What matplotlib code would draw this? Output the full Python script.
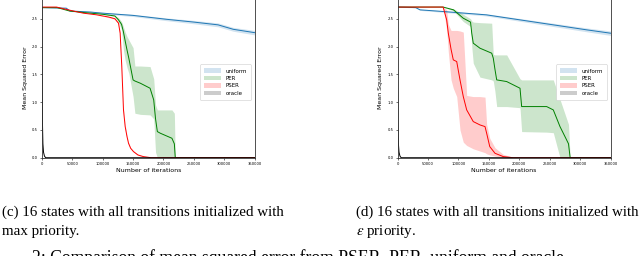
import matplotlib.pyplot as plt
from matplotlib.patches import Patch

# (c) all transitions initialized with max priority
uniform_c_x = [0, 40000, 46000, 80000, 100000, 150000, 205000, 250000, 290000, 315000, 350000]
uniform_c_y = [2.70, 2.69, 2.64, 2.62, 2.60, 2.56, 2.49, 2.44, 2.39, 2.31, 2.25]
uniform_c_err = [0.0, 0.005, 0.01, 0.015, 0.015, 0.02, 0.025, 0.03, 0.035, 0.035, 0.04]

per_c_x = [0, 25000, 45000, 70000, 100000, 120000, 126000, 131000, 134000, 137000, 140000, 143000,
           150000, 153000, 162000, 178000, 184000, 187000, 190000, 195000, 214000, 218000, 219500, 350000]
per_c_y = [2.70, 2.70, 2.64, 2.61, 2.58, 2.55, 2.48, 2.40, 2.27, 2.10, 1.94, 1.79,
           1.40, 1.38, 1.34, 1.25, 1.04, 0.70, 0.47, 0.44, 0.35, 0.25, 0.0, 0.0]
per_c_hi = [2.70, 2.70, 2.64, 2.61, 2.58, 2.56, 2.52, 2.45, 2.36, 2.26, 2.18, 2.12,
            1.98, 1.65, 1.65, 1.64, 1.42, 0.95, 0.86, 0.86, 0.86, 0.80, 0.0, 0.0]
per_c_lo = [2.70, 2.70, 2.64, 2.61, 2.58, 2.54, 2.44, 2.30, 1.95, 1.75, 1.62, 1.52,
            1.10, 0.80, 0.78, 0.77, 0.70, 0.10, 0.0, 0.0, 0.0, 0.0, 0.0, 0.0]

pser_c_x = [0, 24000, 43000, 68000, 90000, 110000, 120000, 126000, 128700, 130000, 131400,
            133000, 134200, 137000, 140000, 142500, 146000, 150700, 158000, 167000, 180000, 350000]
pser_c_y = [2.71, 2.71, 2.66, 2.60, 2.57, 2.53, 2.50, 2.42, 2.24, 1.95, 1.64,
            1.20, 0.86, 0.56, 0.38, 0.26, 0.17, 0.11, 0.05, 0.02, 0.0, 0.0]
pser_c_err = [0.0, 0.0, 0.0, 0.0, 0.0, 0.01, 0.01, 0.02, 0.03, 0.03, 0.03,
              0.03, 0.03, 0.03, 0.02, 0.02, 0.01, 0.01, 0.01, 0.0, 0.0, 0.0]

# (d) all transitions initialized with epsilon priority
uniform_d_x = [0, 30000, 37000, 75000, 146000, 201000, 256000, 311000, 350000]
uniform_d_y = [2.71, 2.70, 2.66, 2.63, 2.57, 2.48, 2.39, 2.30, 2.24]
uniform_d_err = [0.0, 0.005, 0.01, 0.015, 0.02, 0.025, 0.03, 0.035, 0.04]

per_d_x = [0, 75000, 92000, 108000, 120000, 122000, 124500, 135500, 154800, 157400, 160000,
           163000, 179400, 201300, 204000, 245100, 256000, 267000, 277900, 281000, 283700, 350000]
per_d_y = [2.71, 2.71, 2.66, 2.51, 2.44, 2.24, 2.06, 1.97, 1.88, 1.79, 1.60,
           1.40, 1.37, 1.25, 0.92, 0.92, 0.86, 0.56, 0.32, 0.25, 0.0, 0.0]
per_d_hi = [2.71, 2.71, 2.68, 2.58, 2.50, 2.46, 2.44, 2.43, 2.42, 1.86, 1.85,
            1.85, 1.85, 1.42, 1.40, 1.40, 1.40, 1.05, 0.70, 0.60, 0.0, 0.0]
per_d_lo = [2.71, 2.71, 2.64, 2.45, 2.36, 2.00, 1.70, 1.45, 1.40, 1.38, 1.20,
            0.92, 0.92, 0.90, 0.47, 0.46, 0.45, 0.0, 0.0, 0.0, 0.0, 0.0]

pser_d_x = [0, 75000, 80800, 83500, 88000, 91700, 97300, 102700, 108100, 113700,
            124500, 135500, 143800, 146500, 151600, 160200, 173800, 190000, 350000]
pser_d_y = [2.71, 2.71, 2.48, 2.24, 1.95, 1.76, 1.73, 1.40, 1.10, 0.86,
            0.65, 0.59, 0.56, 0.44, 0.20, 0.08, 0.02, 0.0, 0.0]
pser_d_hi = [2.71, 2.71, 2.66, 2.40, 2.29, 2.29, 2.29, 2.28, 2.26, 1.12,
             1.10, 1.10, 1.09, 0.60, 0.35, 0.18, 0.06, 0.01, 0.0]
pser_d_lo = [2.71, 2.71, 2.30, 1.90, 1.40, 1.25, 1.10, 0.50, 0.28, 0.22,
             0.16, 0.12, 0.09, 0.07, 0.05, 0.03, 0.0, 0.0, 0.0]

oracle_x = [0, 300, 800, 1500, 2500, 4000, 6000, 350000]
oracle_y = [2.70, 1.40, 0.60, 0.25, 0.10, 0.03, 0.0, 0.0]

x_ticks = [0, 50000, 100000, 150000, 200000, 250000, 300000, 350000]
y_ticks = [0.0, 0.5, 1.0, 1.5, 2.0, 2.5]
labels = ["uniform", "PER", "PSER", "oracle"]
colors = ["tab:blue", "g", "r", "k"]

caption_c = ["(c) 16 states with all transitions initialized with", "max priority."]
caption_d = ["(d) 16 states with all transitions initialized with", r"$\epsilon$ priority."]
figure_caption = "2: Comparison of mean squared error from PSER, PER, uniform and oracle"

plt.rcParams["mathtext.fontset"] = "stix"


def band(y, err, sign):
    return [v + sign * e for v, e in zip(y, err)]


def draw_panel(ax, uni, per, pser):
    ux, uy, ulo, uhi = uni
    ax.fill_between(ux, ulo, uhi, color=colors[0], alpha=0.2, lw=0)
    ax.plot(ux, uy, color=colors[0], lw=0.7)
    px, py, plo, phi = per
    ax.fill_between(px, plo, phi, color=colors[1], alpha=0.2, lw=0)
    ax.plot(px, py, color=colors[1], lw=0.7)
    sx, sy, slo, shi = pser
    ax.fill_between(sx, slo, shi, color=colors[2], alpha=0.2, lw=0)
    ax.plot(sx, sy, color=colors[2], lw=0.7)
    ax.plot(oracle_x, oracle_y, color=colors[3], lw=0.7)

    ax.set_xlim(0, 350000)
    ax.set_ylim(-0.005, 2.9)
    ax.set_xticks(x_ticks)
    ax.set_xticklabels([str(t) for t in x_ticks])
    ax.set_yticks(y_ticks)
    ax.set_yticklabels(["%.1f" % t for t in y_ticks])
    ax.tick_params(labelsize=2.7, length=1.5, width=0.4, pad=1.5)
    for s in ax.spines.values():
        s.set_linewidth(0.6)
        s.set_color("#333333")
    ax.set_xlabel("Number of iterations", fontsize=4.5, labelpad=1)
    ax.set_ylabel("Mean Squared Error", fontsize=4.5, labelpad=3)

    handles = [Patch(facecolor=c, alpha=0.2, edgecolor="none") for c in colors]
    leg = ax.legend(handles, labels, loc="center right", bbox_to_anchor=(0.995, 0.47),
                    fontsize=4, handlelength=3.0, handleheight=0.9, borderpad=0.7,
                    labelspacing=0.4, framealpha=1, fancybox=True)
    leg.get_frame().set_linewidth(0.4)


fig = plt.figure(figsize=(6.4, 2.56), dpi=100)
ax_c = fig.add_axes([42 / 640, 1 - 158 / 256, 212.5 / 640, 161.5 / 256])
ax_d = fig.add_axes([397.5 / 640, 1 - 158 / 256, 213 / 640, 161.5 / 256])

draw_panel(ax_c,
           (uniform_c_x, uniform_c_y, band(uniform_c_y, uniform_c_err, -1), band(uniform_c_y, uniform_c_err, 1)),
           (per_c_x, per_c_y, per_c_lo, per_c_hi),
           (pser_c_x, pser_c_y, band(pser_c_y, pser_c_err, -1), band(pser_c_y, pser_c_err, 1)))
draw_panel(ax_d,
           (uniform_d_x, uniform_d_y, band(uniform_d_y, uniform_d_err, -1), band(uniform_d_y, uniform_d_err, 1)),
           (per_d_x, per_d_y, per_d_lo, per_d_hi),
           (pser_d_x, pser_d_y, pser_d_lo, pser_d_hi))

serif = "Liberation Serif"
cap_size = 10.8
fig.text(2 / 640, 1 - 212 / 256, caption_c[0], family=serif, fontsize=cap_size, va="center")
fig.text(2 / 640, 1 - 232 / 256, caption_c[1], family=serif, fontsize=cap_size, va="center")
fig.text(356 / 640, 1 - 212 / 256, caption_d[0], family=serif, fontsize=cap_size, va="center")
fig.text(356 / 640, 1 - 232 / 256, caption_d[1], family=serif, fontsize=cap_size, va="center")
fig.text(32 / 640, 1 - 263 / 256, figure_caption, family=serif, fontsize=12.7, va="baseline")

fig.savefig("out.png", dpi=100)
